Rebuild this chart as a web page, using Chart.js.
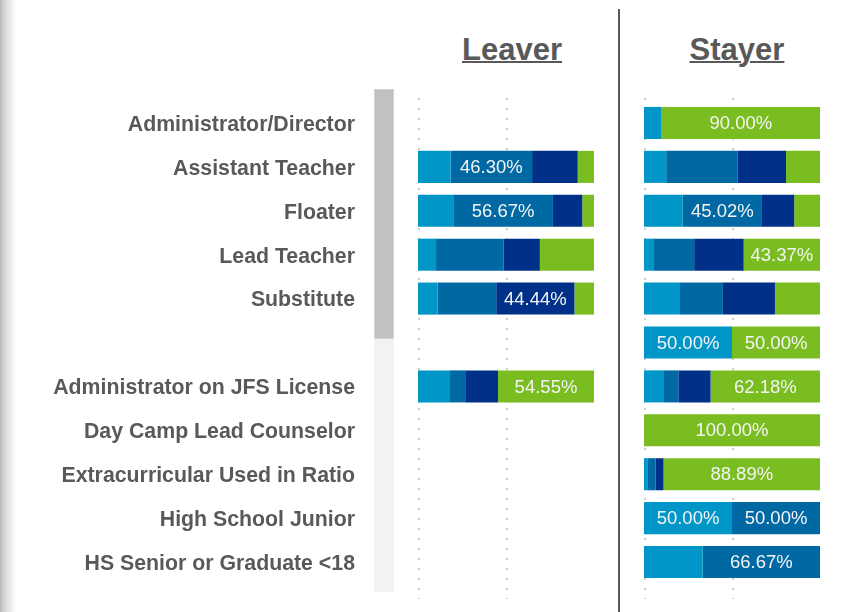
<!DOCTYPE html>
<html>
<head>
<meta charset="utf-8">
<script src="https://cdn.jsdelivr.net/npm/chart.js@4.4.1/dist/chart.umd.min.js"></script>
<style>
html,body{margin:0;padding:0;background:#fff;width:851px;height:612px;overflow:hidden;font-family:"Liberation Sans",Arial,sans-serif;}
#edge{position:absolute;left:0;top:0;width:16px;height:612px;background:linear-gradient(to right,#b9b9b9 0px,#d2d2d2 4px,#e6e6e6 9px,#fafafa 15px,#ffffff 16px);}
#track{position:absolute;left:374px;top:89px;width:20px;height:503px;background:#f2f2f2;}
#thumb{position:absolute;left:374px;top:89px;width:18px;height:248px;background:#c1c1c1;border:1px solid #d3d3d3;}
#divider{position:absolute;left:618px;top:9px;width:2px;height:603px;background:#595959;}
.title{position:absolute;width:200px;text-align:center;font-weight:bold;font-size:31px;line-height:31px;color:#595959;text-decoration:underline;text-decoration-thickness:2px;}
#c1{position:absolute;left:0;top:0;}
#c2{position:absolute;left:620px;top:0;}
</style>
</head>
<body>
<div id="edge"></div>
<div id="track"></div>
<div id="thumb"></div>
<div id="divider"></div>
<div class="title" style="left:412px;top:34px;">Leaver</div>
<div class="title" style="left:637px;top:34px;">Stayer</div>
<canvas id="c1" width="610" height="612"></canvas>
<canvas id="c2" width="231" height="612"></canvas>
<script>
const categories = ['Administrator/Director','Assistant Teacher','Floater','Lead Teacher','Substitute','','Administrator on JFS License','Day Camp Lead Counselor','Extracurricular Used in Ratio','High School Junior','HS Senior or Graduate <18'];
const seriesNames = ['Segment 1','Segment 2','Segment 3','Segment 4'];
const seriesColors = ['#0096c8','#0069a4','#003087','#7abd21'];

const leaverS1 = [null, 18.52, 20.00, 10.26, 11.11, null, 18.18, null, null, null, null];
const leaverS2 = [null, 46.30, 56.67, 38.46, 33.33, null, 9.09, null, null, null, null];
const leaverS3 = [null, 25.93, 16.67, 20.51, 44.44, null, 18.18, null, null, null, null];
const leaverS4 = [null, 9.26, 6.67, 30.77, 11.11, null, 54.55, null, null, null, null];

const stayerS1 = [10.00, 12.60, 22.00, 5.70, 20.45, 50.00, 10.90, 0, 2.22, 50.00, 33.33];
const stayerS2 = [0, 40.70, 45.02, 22.80, 24.40, 0, 8.60, 0, 4.44, 50.00, 66.67];
const stayerS3 = [0, 27.40, 18.30, 28.13, 29.55, 0, 18.32, 0, 4.44, 0, 0];
const stayerS4 = [90.00, 19.30, 14.68, 43.37, 25.60, 50.00, 62.18, 100.00, 88.89, 0, 0];

const gridTicks = [0, 50];
const labelThreshold = 42;

function makeDatasets(series){
  return series.map((d,i)=>({
    label: seriesNames[i],
    data: d,
    backgroundColor: seriesColors[i],
    borderWidth: 0,
    barPercentage: 0.73,
    categoryPercentage: 1.0
  }));
}

const gridPlugin = {
  id:'dottedGrid',
  beforeDatasetsDraw(chart){
    const {ctx, chartArea, scales} = chart;
    ctx.save();
    ctx.strokeStyle = '#cdcdcd';
    ctx.lineWidth = 2;
    ctx.setLineDash([2,8]);
    gridTicks.forEach(v=>{
      const x = Math.round(scales.x.getPixelForValue(v)) + 1;
      ctx.beginPath();
      ctx.moveTo(x, chartArea.top - 3);
      ctx.lineTo(x, chartArea.bottom + 15);
      ctx.stroke();
    });
    ctx.restore();
  }
};

const labelPlugin = {
  id:'segLabels',
  afterDatasetsDraw(chart){
    const {ctx} = chart;
    ctx.save();
    ctx.font = '18.5px "Liberation Sans", Arial, sans-serif';
    ctx.fillStyle = '#f4f4f4';
    ctx.textAlign = 'center';
    ctx.textBaseline = 'middle';
    chart.data.datasets.forEach((ds, di)=>{
      const meta = chart.getDatasetMeta(di);
      meta.data.forEach((el, i)=>{
        const v = ds.data[i];
        if (v != null && v > labelThreshold){
          const cx = (el.x + el.base)/2;
          ctx.fillText(v.toFixed(2) + '%', cx, el.y + 1);
        }
      });
    });
    ctx.restore();
  }
};

function baseOptions(showLabels, padLeft, padRight){
  return {
    indexAxis:'y',
    responsive:false,
    animation:false,
    layout:{padding:{top:101, bottom:28, left:padLeft, right:padRight}},
    plugins:{legend:{display:false}, tooltip:{enabled:false}},
    scales:{
      x:{stacked:true, min:0, max:100, display:false},
      y:{
        stacked:true,
        display: showLabels,
        grid:{display:false, drawTicks:false},
        border:{display:false},
        ticks:{
          color:'#595959',
          padding:63,
          labelOffset:2,
          font:{family:'"Liberation Sans", Arial, sans-serif', size:21.3, weight:'bold'}
        },
        afterFit(s){
          if (showLabels) s.width = 418;
          s.paddingTop = 0; s.paddingBottom = 0;
        }
      }
    }
  };
}

new Chart(document.getElementById('c1'), {
  type:'bar',
  data:{labels:categories, datasets:makeDatasets([leaverS1, leaverS2, leaverS3, leaverS4])},
  options:baseOptions(true, 0, 16),
  plugins:[gridPlugin, labelPlugin]
});

new Chart(document.getElementById('c2'), {
  type:'bar',
  data:{labels:categories, datasets:makeDatasets([stayerS1, stayerS2, stayerS3, stayerS4])},
  options:baseOptions(false, 24, 31),
  plugins:[gridPlugin, labelPlugin]
});
</script>
</body>
</html>
